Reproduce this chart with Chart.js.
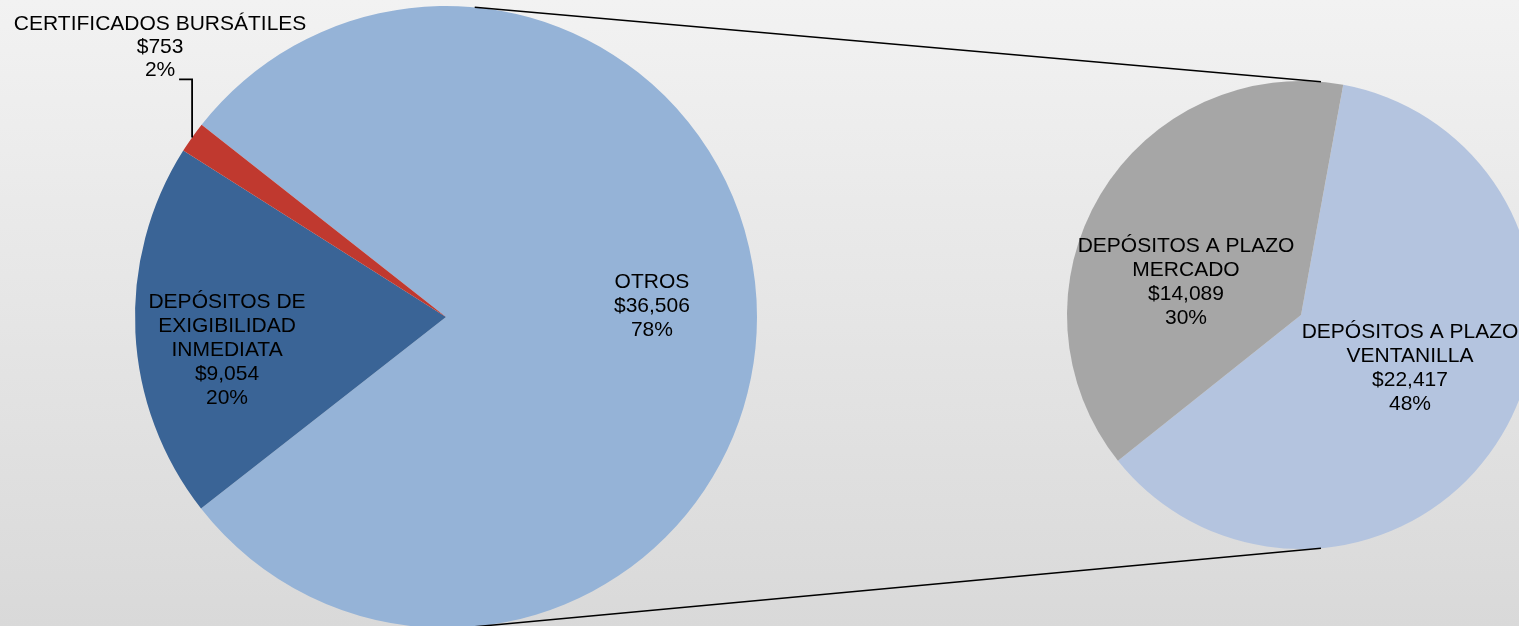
<!DOCTYPE html>
<html>
<head>
<meta charset="utf-8">
<script src="https://cdn.jsdelivr.net/npm/chart.js@4.4.0/dist/chart.umd.min.js"></script>
<style>
  html, body { margin: 0; padding: 0; width: 1519px; height: 626px; overflow: hidden; }
  body { position: relative; background: linear-gradient(to bottom, #f2f2f2 0%, #d9d9d9 100%); }
  canvas { position: absolute; left: 0; top: 0; width: 1540px; height: 634px; }
</style>
</head>
<body>
<canvas id="main-pie" width="1540" height="634"></canvas>
<canvas id="sub-pie" width="1540" height="634"></canvas>
<script>
// ── Data ───────────────────────────────────────────────────────────────────
const mainLabels   = [["OTROS"], ["DEPÓSITOS DE", "EXIGIBILIDAD", "INMEDIATA"], ["CERTIFICADOS BURSÁTILES"]];
const mainValues   = [36506, 9054, 753];
const mainPercents = [78, 20, 2];
const mainColors   = ["#95b3d7", "#3a6496", "#c0392f"];

const subLabels    = [["DEPÓSITOS A PLAZO", "VENTANILLA"], ["DEPÓSITOS A PLAZO", "MERCADO"]];
const subValues    = [22417, 14089];
const subPercents  = [48, 30];
const subColors    = ["#b4c4df", "#a6a6a6"];

const FONT = "21px 'Liberation Sans', Arial, sans-serif";
const LINE_H = 24;
const DEG = Math.PI / 180;

function fmtMoney(v) {
  return "$" + v.toLocaleString("en-US");
}

// ── Slice labels ───────────────────────────────────────────────────────────
// place: { f: fraction of radius, da: angle shift in degrees } or { outside: true }
const sliceLabels = {
  id: "sliceLabels",
  afterDatasetsDraw(chart, args, opts) {
    const ctx  = chart.ctx;
    const meta = chart.getDatasetMeta(0);
    const ds   = chart.data.datasets[0];
    ctx.save();
    ctx.font = FONT;
    ctx.fillStyle = "#000";
    ctx.textAlign = "center";
    ctx.textBaseline = "middle";
    meta.data.forEach((arc, i) => {
      const p = arc.getProps(["x", "y", "startAngle", "endAngle", "outerRadius"], true);
      const mid = (p.startAngle + p.endAngle) / 2;
      const lines = opts.names[i].concat([fmtMoney(ds.data[i]), opts.percents[i] + "%"]);
      const place = opts.place[i];
      if (place.outside) {
        const ax = p.x + Math.cos(mid) * p.outerRadius;
        const ay = p.y + Math.sin(mid) * p.outerRadius;
        // leader line
        ctx.beginPath();
        ctx.strokeStyle = "#000";
        ctx.lineWidth = 1.8;
        ctx.moveTo(ax, ay);
        ctx.lineTo(ax, ay - 58);
        ctx.lineTo(ax - 13, ay - 58);
        ctx.stroke();
        const cx = ax - 32;
        const lastY = ay - 67;
        lines.forEach((t, k) => {
          ctx.fillText(t, cx, lastY - (lines.length - 1 - k) * 23);
        });
      } else {
        const a = mid + place.da * DEG;
        const r = p.outerRadius * place.f;
        const cx = p.x + Math.cos(a) * r;
        const cy = p.y + Math.sin(a) * r;
        const top = cy - ((lines.length - 1) * LINE_H) / 2;
        lines.forEach((t, k) => ctx.fillText(t, cx, top + k * LINE_H));
      }
    });
    ctx.restore();
  },
};

// ── Connector lines between the two pies ───────────────────────────────────
const connectors = {
  id: "connectors",
  afterDraw(chart) {
    if (!mainChart) return;
    const m = mainChart.getDatasetMeta(0).data[0].getProps(["x", "y", "outerRadius"], true);
    const s = chart.getDatasetMeta(0).data[0].getProps(["x", "y", "outerRadius"], true);
    const ctx = chart.ctx;
    const pt = (c, deg) => [c.x + Math.cos(deg * DEG) * c.outerRadius, c.y + Math.sin(deg * DEG) * c.outerRadius];
    ctx.save();
    ctx.strokeStyle = "#000";
    ctx.lineWidth = 1.5;
    [[-84.7, -85.1], [84.7, 85.1]].forEach(([am, as]) => {
      const a = pt(m, am);
      const b = pt(s, as);
      ctx.beginPath();
      ctx.moveTo(a[0], a[1]);
      ctx.lineTo(b[0], b[1]);
      ctx.stroke();
    });
    ctx.restore();
  },
};

const baseOptions = {
  responsive: false,
  animation: false,
  events: [],
  plugins: { legend: { display: false }, tooltip: { enabled: false } },
};

// ── Primary pie ────────────────────────────────────────────────────────────
let mainChart = null;
mainChart = new Chart(document.getElementById("main-pie").getContext("2d"), {
  type: "pie",
  data: {
    labels: mainLabels.map((l) => l.join(" ")),
    datasets: [{
      data: mainValues,
      backgroundColor: mainColors,
      borderWidth: 0,
      hoverOffset: 0,
      offset: 0,
    }],
  },
  options: {
    ...baseOptions,
    rotation: -51.8,
    layout: { padding: { left: 135, right: 783, top: 6, bottom: 6 } },
    plugins: {
      ...baseOptions.plugins,
      sliceLabels: {
        names: mainLabels,
        percents: mainPercents,
        place: [{ f: 0.663, da: -3.1 }, { f: 0.712, da: -5.7 }, { outside: true }],
      },
    },
  },
  plugins: [sliceLabels],
});

// ── Secondary pie (breakdown of OTROS) ─────────────────────────────────────
new Chart(document.getElementById("sub-pie").getContext("2d"), {
  type: "pie",
  data: {
    labels: subLabels.map((l) => l.join(" ")),
    datasets: [{
      data: subValues,
      backgroundColor: subColors,
      borderWidth: 0,
      hoverOffset: 0,
      offset: 0,
    }],
  },
  options: {
    ...baseOptions,
    rotation: 10.4,
    layout: { padding: { left: 1067, right: 5, top: 81, bottom: 85 } },
    plugins: {
      ...baseOptions.plugins,
      sliceLabels: {
        names: subLabels,
        percents: subPercents,
        place: [{ f: 0.518, da: -5 }, { f: 0.511, da: -15 }],
      },
    },
  },
  plugins: [connectors, sliceLabels],
});
</script>
</body>
</html>
